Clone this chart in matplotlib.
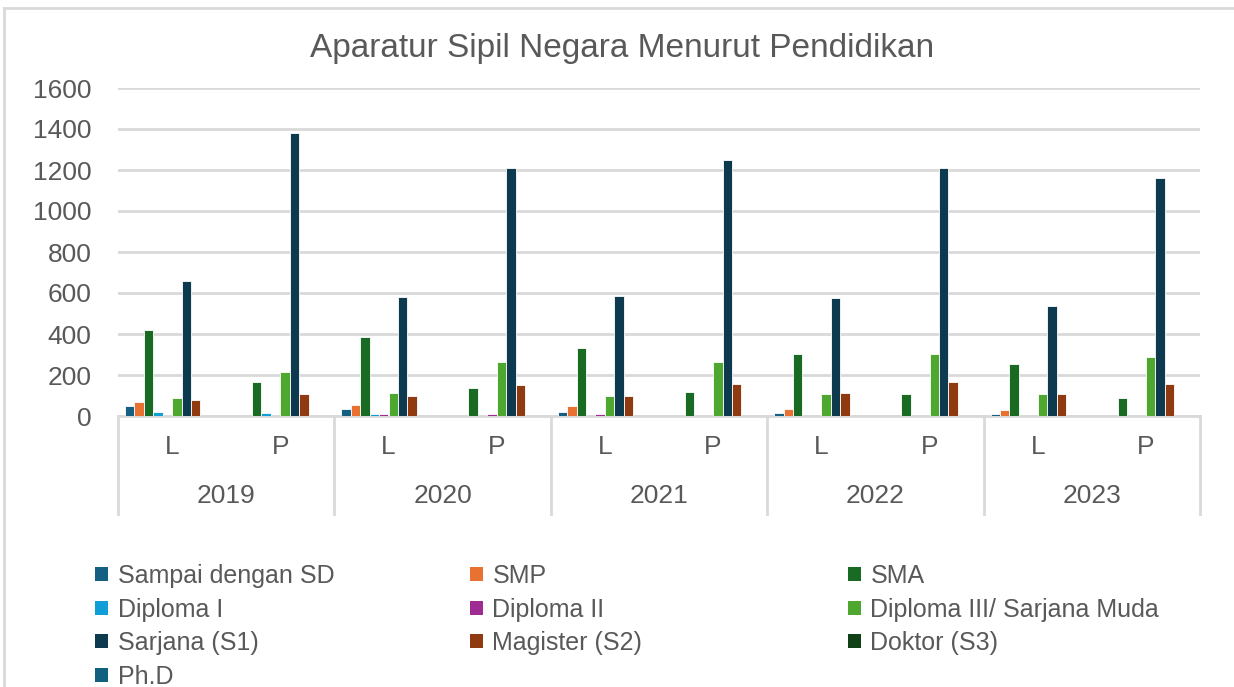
import matplotlib
matplotlib.use("Agg")
import matplotlib.pyplot as plt
import matplotlib.transforms as mtransforms
from matplotlib.patches import Patch
import numpy as np

plt.rcParams['font.family'] = ['Liberation Sans', 'DejaVu Sans']

years = ["2019", "2020", "2021", "2022", "2023"]
genders = ["L", "P"]

series_names = ["Sampai dengan SD", "SMP", "SMA", "Diploma I", "Diploma II",
                "Diploma III/ Sarjana Muda", "Sarjana (S1)", "Magister (S2)",
                "Doktor (S3)", "Ph.D"]
colors = ["#156082", "#E97132", "#196B24", "#0F9ED5", "#A02B93",
          "#4EA72E", "#0D3A4E", "#8F3A10", "#0F4016", "#11607F"]

# values per category: 2019 L, 2019 P, 2020 L, 2020 P, ... 2023 P
sd = [48, 0, 34, 0, 21, 0, 15, 0, 8, 0]
smp = [66, 0, 54, 0, 47, 0, 36, 0, 29, 0]
sma = [418, 164, 385, 138, 333, 119, 302, 105, 255, 86]
diploma1 = [20, 15, 8, 0, 0, 0, 0, 0, 0, 0]
diploma2 = [0, 0, 8, 8, 8, 0, 0, 0, 0, 0]
diploma3 = [86, 216, 112, 261, 99, 263, 105, 302, 105, 288]
s1 = [658, 1382, 580, 1212, 587, 1250, 576, 1212, 537, 1160]
s2 = [80, 105, 99, 151, 99, 158, 112, 166, 105, 158]
s3 = [0, 0, 0, 0, 0, 0, 0, 0, 0, 0]
phd = [0, 0, 0, 0, 0, 0, 0, 0, 0, 0]

all_series = [sd, smp, sma, diploma1, diploma2, diploma3, s1, s2, s3, phd]

text_color = "#595959"
grid_color = "#D9D9D9"

fig = plt.figure(figsize=(12.34, 6.87), dpi=100)
ax = fig.add_axes([118 / 1234, 1 - 416 / 687, (1200 - 118) / 1234, (416 - 88) / 687])

x = np.arange(len(years) * len(genders))
bw = 1 / 11.5
for i, (vals, name, c) in enumerate(zip(all_series, series_names, colors)):
    ax.bar(x + (i - 4.5) * bw, vals, width=bw, color=c, edgecolor="white",
           linewidth=0.6, label=name, zorder=3)

ax.set_xlim(-0.5, len(x) - 0.5)
ax.set_ylim(0, 1600)
ax.set_yticks(range(0, 1601, 200))
ax.yaxis.grid(True, color=grid_color, linewidth=2, zorder=0)
ax.set_xticks([])
for side in ["top", "right", "left"]:
    ax.spines[side].set_visible(False)
ax.spines["bottom"].set_color(grid_color)
ax.spines["bottom"].set_linewidth(2)
ax.tick_params(axis="y", length=0, pad=19, labelsize=19, labelcolor=text_color)

# two-level category axis
trans = mtransforms.blended_transform_factory(ax.transData, ax.transAxes)
for k in range(len(years) + 1):
    ax.plot([k * 2 - 0.5, k * 2 - 0.5], [0, -0.30], transform=trans,
            color=grid_color, linewidth=2, clip_on=False)
for j, xi in enumerate(x):
    ax.text(xi, -0.095, genders[j % 2], transform=trans, ha="center",
            va="center", fontsize=19, color=text_color)
for k, yr in enumerate(years):
    ax.text(k * 2 + 0.5, -0.245, yr, transform=trans, ha="center",
            va="center", fontsize=19, color=text_color)

fig.text(622 / 1234, 1 - 48 / 687, "Aparatur Sipil Negara Menurut Pendidikan",
         ha="center", va="center", fontsize=24, color=text_color)

# legend in three columns
columns = [[0, 3, 6, 9], [1, 4, 7], [2, 5, 8]]
col_x = [95, 470, 848]
for cols, cx in zip(columns, col_x):
    handles = [Patch(facecolor=colors[i], edgecolor="none") for i in cols]
    labels = [series_names[i] for i in cols]
    leg = fig.legend(handles, labels, loc="upper left",
                     bbox_to_anchor=(cx / 1234, 1 - 564 / 687),
                     frameon=False, fontsize=18, handlelength=0.5,
                     handleheight=0.5, handletextpad=0.4, borderpad=0,
                     labelspacing=0.38, borderaxespad=0)
    for t in leg.get_texts():
        t.set_color(text_color)

# chart border (top and left)
fig.add_artist(plt.Line2D([4 / 1234, 4 / 1234], [0, 1 - 8 / 687],
                          color=grid_color, linewidth=2))
fig.add_artist(plt.Line2D([4 / 1234, 1], [1 - 8 / 687, 1 - 8 / 687],
                          color=grid_color, linewidth=2))

fig.savefig("out.png", dpi=100)
